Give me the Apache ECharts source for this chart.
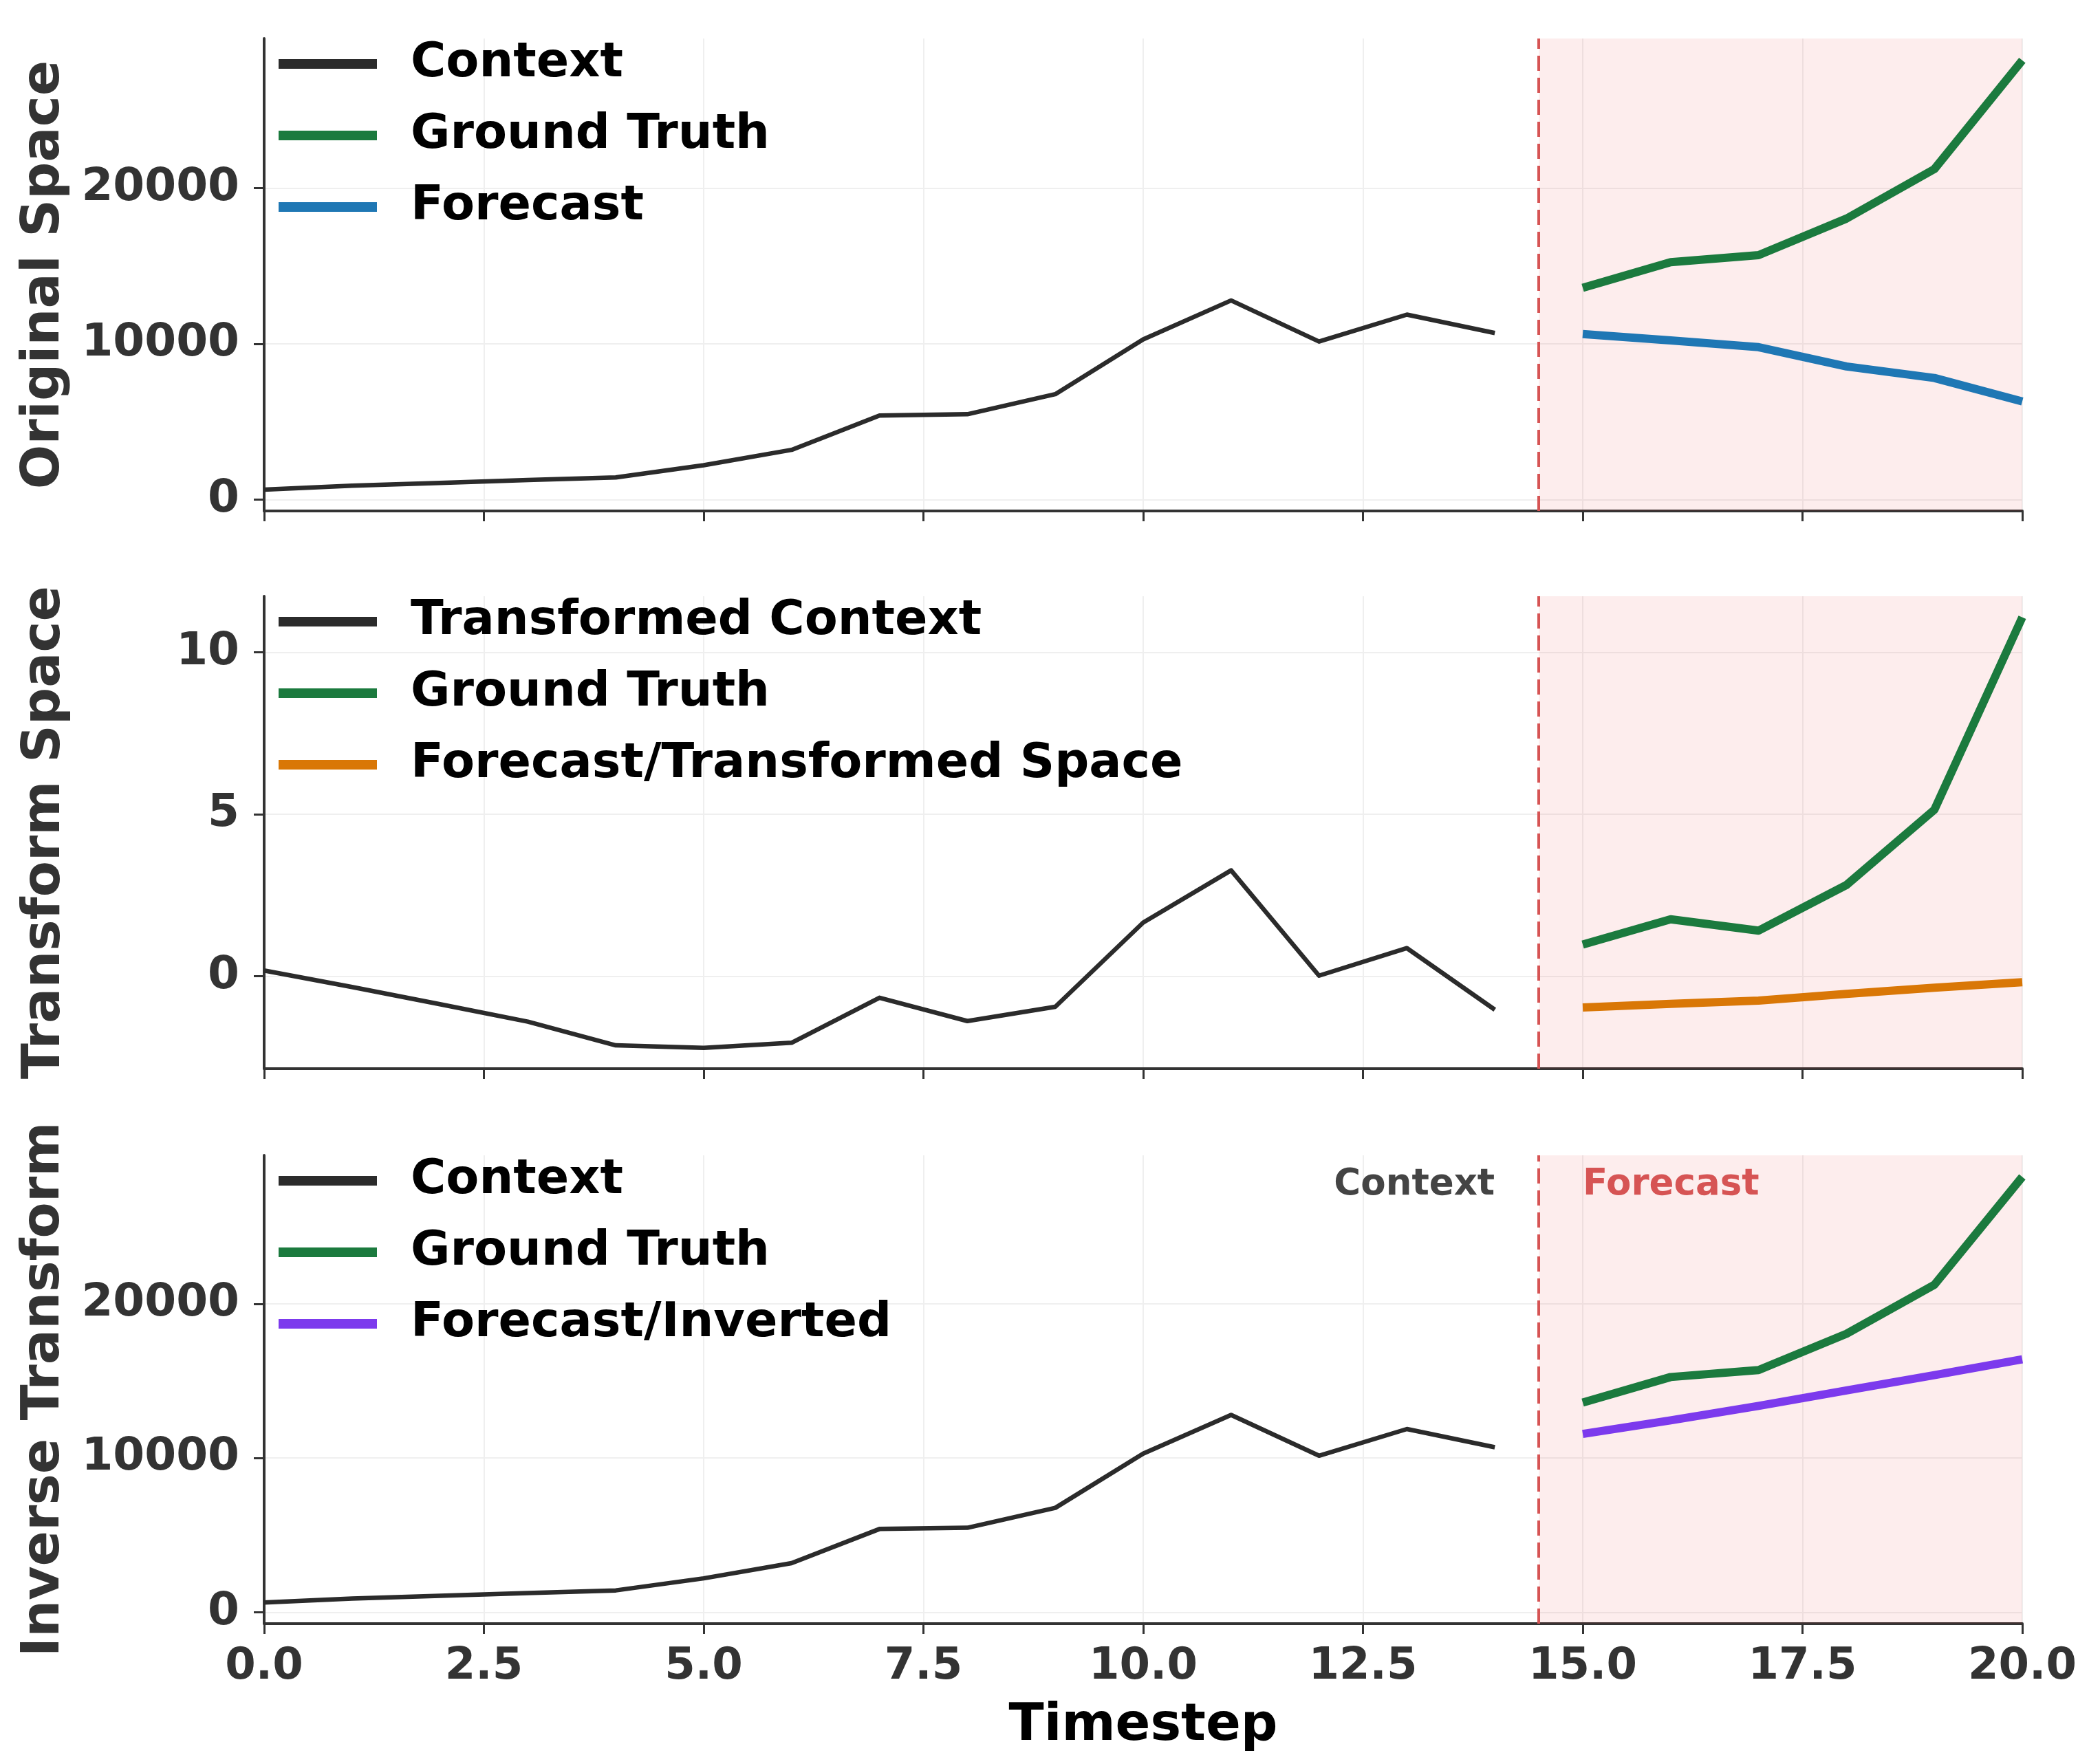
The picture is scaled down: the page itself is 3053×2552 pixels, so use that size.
<!DOCTYPE html>
<html lang="en">
<head>
<meta charset="UTF-8">
<title>Transform / Forecast</title>
<style>
  html, body { margin: 0; padding: 0; background: #ffffff; }
  #chart { width: 3053px; height: 2552px; }
</style>
</head>
<body>
<div id="chart"></div>
<script src="https://cdn.jsdelivr.net/npm/echarts@6/dist/echarts.min.js"></script>
<script>
// timesteps
var contextSteps = [0, 1, 2, 3, 4, 5, 6, 7, 8, 9, 10, 11, 12, 13, 14];
var forecastSteps = [15, 16, 17, 18, 19, 20];
var xTickLabels = ['0.0', '2.5', '5.0', '7.5', '10.0', '12.5', '15.0', '17.5', '20.0'];

// original space
var contextVals = [640, 890, 1070, 1250, 1420, 2200, 3190, 5400, 5480, 6770, 10290, 12790, 10150, 11880, 10700];
var truthVals = [13600, 15250, 15700, 18050, 21230, 28220];
var forecastVals = [10630, 10220, 9790, 8550, 7810, 6300];

// transform space
var tContextVals = [0.18, -0.33, -0.86, -1.40, -2.13, -2.21, -2.05, -0.66, -1.38, -0.94, 1.66, 3.27, 0.02, 0.87, -1.03];
var tTruthVals = [0.98, 1.76, 1.41, 2.82, 5.14, 11.08];
var tForecastVals = [-0.96, -0.85, -0.75, -0.54, -0.35, -0.18];

// inverse transform
var invertedVals = [11560, 12440, 13380, 14380, 15370, 16400];

var origTicks = [0, 10000, 20000];
var transTicks = [0, 5, 10];

var FONT = 'DejaVu Sans';
var C_CTX = '#2b2b2b', C_TRUTH = '#1b7a3e', C_FC = '#1f77b4', C_ORANGE = '#d97706', C_PURPLE = '#7c3aed';
var C_RED = '#d65454';

var tops = [56, 867, 1680];
var plotH = 687;

function pairs(xs, ys) {
    var out = [];
    for (var i = 0; i < xs.length; i++) out.push([xs[i], ys[i]]);
    return out;
}

var grids = [], xAxes = [], yAxes = [], series = [], legends = [];

function addPanel(i, yName, yMin, yMax, ticks, lines) {
    grids.push({ left: 384, right: 113, top: tops[i], height: plotH });
    xAxes.push({
        gridIndex: i, type: 'value', min: 0, max: 20, interval: 2.5,
        name: i === 2 ? 'Timestep' : '', nameLocation: 'middle', nameGap: 110,
        nameTextStyle: { fontFamily: FONT, fontWeight: 'bold', fontSize: 75, color: '#000', lineHeight: 80 },
        axisLine: { show: true, onZero: false, lineStyle: { color: '#333', width: 4 } },
        axisTick: { show: true, length: 15, lineStyle: { color: '#333', width: 3 } },
        axisLabel: {
            show: i === 2, margin: 31, fontFamily: FONT, fontWeight: 'bold', fontSize: 64, color: '#333',
            formatter: function (v) { return xTickLabels[Math.round(v / 2.5)]; }
        },
        splitLine: { show: true, lineStyle: { color: '#efefef', width: 2 } }
    });
    yAxes.push({
        gridIndex: i, type: 'value', min: yMin, max: yMax,
        name: yName, nameLocation: 'middle', nameGap: 276, nameRotate: 90,
        nameTextStyle: { fontFamily: FONT, fontWeight: 'bold', fontSize: 76, color: '#333', lineHeight: 84 },
        axisLine: { show: true, onZero: false, lineStyle: { color: '#333', width: 4 } },
        axisTick: { show: true, length: 15, customValues: ticks, lineStyle: { color: '#333', width: 3 } },
        axisLabel: {
            customValues: ticks, margin: 36, fontFamily: FONT, fontWeight: 'bold', fontSize: 66, color: '#333',
            formatter: function (v) { return String(v); }
        },
        splitLine: { show: true, lineStyle: { color: '#efefef', width: 2 } }
    });
    var names = [];
    lines.forEach(function (ln, k) {
        names.push(ln.name);
        var s = {
            name: ln.name, type: 'line', xAxisIndex: i, yAxisIndex: i,
            data: pairs(ln.x, ln.y), color: ln.color, showSymbol: false, symbol: 'none',
            lineStyle: { color: ln.color, width: ln.width, cap: 'butt', join: 'round' },
            emphasis: { disabled: true },
            animation: false, z: 5
        };
        if (k === 0) {
            s.markArea = {
                silent: true,
                itemStyle: { color: 'rgba(235,45,45,0.085)', opacity: 1 },
                data: [[{ xAxis: 14.5 }, { xAxis: 20 }]]
            };
            s.markLine = {
                silent: true, symbol: ['none', 'none'], label: { show: false },
                lineStyle: { color: C_RED, width: 4, type: [22, 10], opacity: 1 },
                data: [{ xAxis: 14.5 }]
            };
        }
        series.push(s);
    });
    legends.push({
        orient: 'vertical', left: 405, top: tops[i] - 5, padding: 0,
        icon: 'rect', itemWidth: 143, itemHeight: 14, itemGap: 20,
        textStyle: { fontFamily: FONT, fontWeight: 'bold', fontSize: 70, color: '#000', lineHeight: 84, padding: [0, 0, 0, 44] },
        data: names, selectedMode: false
    });
}

addPanel(0, 'Original Space', -735, 29620, origTicks, [
    { name: 'Context', x: contextSteps, y: contextVals, color: C_CTX, width: 6.5 },
    { name: 'Ground Truth', x: forecastSteps, y: truthVals, color: C_TRUTH, width: 12 },
    { name: 'Forecast', x: forecastSteps, y: forecastVals, color: C_FC, width: 12 }
]);
addPanel(1, 'Transform Space', -2.85, 11.73, transTicks, [
    { name: 'Transformed Context', x: contextSteps, y: tContextVals, color: C_CTX, width: 6.5 },
    { name: 'Ground Truth', x: forecastSteps, y: tTruthVals, color: C_TRUTH, width: 12 },
    { name: 'Forecast/Transformed Space', x: forecastSteps, y: tForecastVals, color: C_ORANGE, width: 12 }
]);
addPanel(2, 'Inverse Transform', -735, 29620, origTicks, [
    { name: 'Context', x: contextSteps, y: contextVals, color: C_CTX, width: 6.5 },
    { name: 'Ground Truth', x: forecastSteps, y: truthVals, color: C_TRUTH, width: 12 },
    { name: 'Forecast/Inverted', x: forecastSteps, y: invertedVals, color: C_PURPLE, width: 12 }
]);

// region labels in the bottom panel
series.push({
    type: 'scatter', xAxisIndex: 2, yAxisIndex: 2, symbolSize: 0, silent: true, animation: false,
    itemStyle: { opacity: 1 },
    emphasis: { disabled: true },
    data: [
        { value: [14.0, 27700], label: { show: true, position: 'left', distance: 0, formatter: 'Context', color: '#444444' } },
        { value: [15.0, 27700], label: { show: true, position: 'right', distance: 0, formatter: 'Forecast', color: C_RED } }
    ],
    label: { fontFamily: FONT, fontWeight: 'bold', fontSize: 53, opacity: 1 }
});

var chart = echarts.init(document.getElementById('chart'));
chart.setOption({
    backgroundColor: '#ffffff',
    animation: false,
    grid: grids,
    xAxis: xAxes,
    yAxis: yAxes,
    legend: legends,
    series: series
});
</script>
</body>
</html>
